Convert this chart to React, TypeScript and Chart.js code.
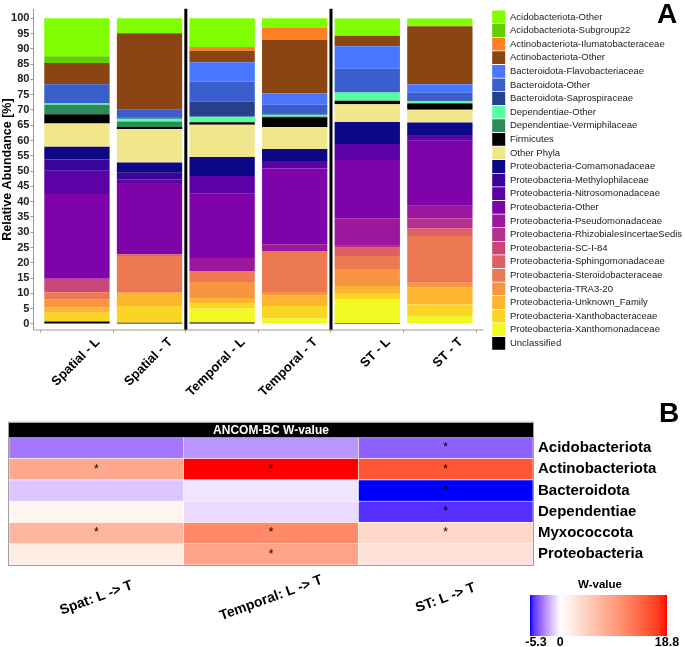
import React, { useEffect, useRef } from "react";
import { Chart, registerables } from "chart.js";
Chart.register(...registerables);

const FONT = "'Liberation Sans', Arial, Helvetica, sans-serif";

// ---------- Panel A data ----------
const samples = ["Spatial - L", "Spatial - T", "Temporal - L", "Temporal - T", "ST - L", "ST - T"];
const yTickValues = [0, 5, 10, 15, 20, 25, 30, 35, 40, 45, 50, 55, 60, 65, 70, 75, 80, 85, 90, 95, 100];

const acidobacteriotaOther = [12.4, 4.9, 9.4, 3.2, 5.7, 2.5];
const acidobacteriotaSubgroup22 = [2.2, 0, 0, 0, 0, 0];
const actinobacteriotaIlumatobacteraceae = [0, 0, 1.2, 3.8, 0, 0];
const actinobacteriotaOther = [7.0, 25.05, 3.8, 17.6, 3.4, 19.0];
const bacteroidotaFlavobacteriaceae = [0, 0, 6.3, 3.6, 7.4, 2.8];
const bacteroidotaOther = [6.3, 2.6, 6.5, 2.9, 7.7, 2.4];
const bacteroidotaSaprospiraceae = [0, 0.3, 5.0, 0.5, 0, 0.3];
const dependentiaeOther = [0.4, 0.9, 1.8, 0.5, 2.7, 0.6];
const dependentiaeVermiphilaceae = [3.1, 1.8, 0, 0.3, 0, 0.2];
const firmicutes = [3.0, 0.7, 0.8, 3.15, 1.2, 2.0];
const otherPhyla = [7.6, 10.9, 10.6, 7.2, 5.8, 4.2];
const proteoComamonadaceae = [4.2, 3.4, 6.2, 3.95, 7.2, 4.1];
const proteoMethylophilaceae = [3.7, 2.1, 0, 0, 0, 0];
const proteoNitrosomonadaceae = [7.6, 1.2, 5.8, 2.4, 5.2, 1.9];
const proteoOther = [27.7, 23.3, 21.05, 24.8, 19.1, 21.2];
const proteoPseudomonadaceae = [0, 0, 4.25, 2.2, 8.7, 4.2];
const proteoRhizobialesIncertaeSedis = [0, 0, 0, 0, 0.9, 3.3];
const proteoSCI84 = [4.4, 0, 0, 0, 0, 0];
const proteoSphingomonadaceae = [0, 0.6, 0, 0, 2.7, 2.4];
const proteoSteroidobacteraceae = [2.3, 12.0, 3.6, 13.4, 4.25, 15.3];
const proteoTRA320 = [2.7, 0, 5.2, 1.2, 5.6, 1.6];
const proteoUnknownFamily = [1.7, 4.35, 1.8, 3.4, 2.3, 5.5];
const proteoXanthobacteraceae = [2.9, 5.5, 1.6, 4.05, 1.9, 4.0];
const proteoXanthomonadaceae = [0, 0, 4.6, 1.65, 7.9, 2.4];
const unclassified = [0.8, 0.4, 0.5, 0.2, 0.3, 0];

// legend order (top of stack first)
const taxonLabels = [
  "Acidobacteriota-Other", "Acidobacteriota-Subgroup22", "Actinobacteriota-Ilumatobacteraceae",
  "Actinobacteriota-Other", "Bacteroidota-Flavobacteriaceae", "Bacteroidota-Other",
  "Bacteroidota-Saprospiraceae", "Dependentiae-Other", "Dependentiae-Vermiphilaceae",
  "Firmicutes", "Other Phyla", "Proteobacteria-Comamonadaceae", "Proteobacteria-Methylophilaceae",
  "Proteobacteria-Nitrosomonadaceae", "Proteobacteria-Other", "Proteobacteria-Pseudomonadaceae",
  "Proteobacteria-RhizobialesIncertaeSedis", "Proteobacteria-SC-I-84", "Proteobacteria-Sphingomonadaceae",
  "Proteobacteria-Steroidobacteraceae", "Proteobacteria-TRA3-20", "Proteobacteria-Unknown_Family",
  "Proteobacteria-Xanthobacteraceae", "Proteobacteria-Xanthomonadaceae", "Unclassified",
];
const taxonValues = [
  acidobacteriotaOther, acidobacteriotaSubgroup22, actinobacteriotaIlumatobacteraceae,
  actinobacteriotaOther, bacteroidotaFlavobacteriaceae, bacteroidotaOther,
  bacteroidotaSaprospiraceae, dependentiaeOther, dependentiaeVermiphilaceae,
  firmicutes, otherPhyla, proteoComamonadaceae, proteoMethylophilaceae,
  proteoNitrosomonadaceae, proteoOther, proteoPseudomonadaceae,
  proteoRhizobialesIncertaeSedis, proteoSCI84, proteoSphingomonadaceae,
  proteoSteroidobacteraceae, proteoTRA320, proteoUnknownFamily,
  proteoXanthobacteraceae, proteoXanthomonadaceae, unclassified,
];
const taxonColors = [
  "#7FFF00", "#66CD00", "#FF7F24", "#8B4513", "#4876FF", "#3A5FCD", "#27408B",
  "#54FF9F", "#2E8B57", "#000000", "#F0E68C",
  "#0D0887", "#3A049A", "#5C01A6", "#7E03A8", "#9C179E", "#B52F8C", "#CC4778",
  "#DE5F65", "#ED7953", "#F89540", "#FDB42F", "#FBD524", "#F0F921", "#000000",
];

// ---------- Panel B data ----------
const phyla = ["Acidobacteriota", "Actinobacteriota", "Bacteroidota", "Dependentiae", "Myxococcota", "Proteobacteria"];
const comparisons = ["Spat: L -> T", "Temporal: L -> T", "ST: L -> T"];
const wSpatial = [-3.1, 8.5, -1.3, 0.9, 7.1, 1.9];
const wTemporal = [-2.4, 18.8, -0.6, -0.8, 11.3, 8.8];
const wST = [-3.6, 15.4, -5.3, -4.7, 3.8, 2.8];
const sigSpatial = [false, true, false, false, true, false];
const sigTemporal = [false, true, false, false, true, true];
const sigST = [true, true, true, true, true, false];
const wMin = -5.3;
const wMax = 18.8;
const colorbarLabels = [-5.3, 0, 18.8];

// ---------- colour helpers (LAB interpolation blue-white-red) ----------
const D65 = [0.95047, 1, 1.08883];
const lin = (c: number) => { c /= 255; return c <= 0.04045 ? c / 12.92 : Math.pow((c + 0.055) / 1.055, 2.4); };
const delin = (v: number) => {
  v = v <= 0.0031308 ? 12.92 * v : 1.055 * Math.pow(Math.max(v, 0), 1 / 2.4) - 0.055;
  return Math.round(Math.max(0, Math.min(1, v)) * 255);
};
const hexToRgb = (h: string) => [parseInt(h.slice(1, 3), 16), parseInt(h.slice(3, 5), 16), parseInt(h.slice(5, 7), 16)];
function rgbToLab(rgb: number[]) {
  const R = lin(rgb[0]), G = lin(rgb[1]), B = lin(rgb[2]);
  const X = (0.4124564 * R + 0.3575761 * G + 0.1804375 * B) / D65[0];
  const Y = 0.2126729 * R + 0.7151522 * G + 0.072175 * B;
  const Z = (0.0193339 * R + 0.119192 * G + 0.9503041 * B) / D65[2];
  const f = (t: number) => (t > 216 / 24389 ? Math.cbrt(t) : ((24389 / 27) * t + 16) / 116);
  const fx = f(X), fy = f(Y), fz = f(Z);
  return [116 * fy - 16, 500 * (fx - fy), 200 * (fy - fz)];
}
function labToHex(lab: number[]) {
  const [L, a, b] = lab;
  const fy = (L + 16) / 116, fx = fy + a / 500, fz = fy - b / 200;
  const k = 24389 / 27;
  const finv = (t: number) => (t * t * t > 216 / 24389 ? t * t * t : (116 * t - 16) / k);
  const X = finv(fx) * D65[0];
  const Y = L > 8 ? fy * fy * fy : L / k;
  const Z = finv(fz) * D65[2];
  const R = 3.2404542 * X - 1.5371385 * Y - 0.4985314 * Z;
  const G = -0.969266 * X + 1.8760108 * Y + 0.041556 * Z;
  const B = 0.0556434 * X - 0.2040259 * Y + 1.0572252 * Z;
  return "rgb(" + [R, G, B].map(delin).join(",") + ")";
}
const LAB_WHITE = rgbToLab(hexToRgb("#FFFFFF"));
const LAB_RED = rgbToLab(hexToRgb("#FF0000"));
const LAB_BLUE = rgbToLab(hexToRgb("#0000FF"));
function colorFor(v: number) {
  const end = v >= 0 ? LAB_RED : LAB_BLUE;
  const t = Math.min(1, v >= 0 ? v / wMax : v / wMin);
  return labToHex(LAB_WHITE.map((w, i) => w + (end[i] - w) * t));
}

const TOP_H = 395;
const HEAT_H = 252;

export default function App() {
  const topRef = useRef<HTMLCanvasElement>(null);
  const heatRef = useRef<HTMLCanvasElement>(null);

  useEffect(() => {
    document.body.style.margin = "0";
    const stackOrder = taxonLabels.map((label, i) => ({ label, values: taxonValues[i], color: taxonColors[i] })).reverse();

    const separatorPlugin = {
      id: "separators",
      afterDatasetsDraw(chart: any) {
        const { ctx, chartArea, scales } = chart;
        const xs = scales.x;
        ctx.save();
        ctx.strokeStyle = "#000";
        ctx.lineWidth = 3;
        [2.5, 4.5].forEach((v) => {
          const px = xs.getPixelForValue(v);
          ctx.beginPath();
          ctx.moveTo(px, chartArea.top - 1);
          ctx.lineTo(px, chartArea.bottom + 0.5);
          ctx.stroke();
        });
        ctx.strokeStyle = "#9a9a9a";
        ctx.lineWidth = 1;
        ctx.beginPath();
        ctx.moveTo(chartArea.left, chartArea.bottom + 0.5);
        ctx.lineTo(xs.getPixelForValue(6.6), chartArea.bottom + 0.5);
        ctx.stroke();
        ctx.restore();
      },
    };

    const top = new Chart(topRef.current!, {
      type: "bar",
      data: {
        datasets: stackOrder.map((t) => ({
          label: t.label,
          data: t.values.map((v, i) => ({ x: i + 1, y: v })),
          backgroundColor: t.color,
          borderWidth: 0,
          barPercentage: 0.9,
          categoryPercentage: 1,
        })),
      },
      options: {
        responsive: false,
        animation: false,
        devicePixelRatio: 1,
        layout: { padding: { top: 9.7, left: 0, right: 0, bottom: 0 } },
        plugins: {
          tooltip: { enabled: false },
          legend: {
            position: "right",
            align: "start",
            reverse: true,
            maxWidth: 193.6,
            labels: {
              boxWidth: 13,
              boxHeight: 12.8,
              padding: 0.8,
              color: "#1a1a1a",
              font: { family: FONT, size: 9.5 },
            },
          },
        },
        scales: {
          x: {
            type: "linear",
            min: 0.4,
            max: 6.71,
            stacked: true,
            offset: false,
            afterBuildTicks: (s: any) => { s.ticks = samples.map((_, i) => ({ value: i + 1 })); },
            afterFit: (s: any) => { s.height = TOP_H - 329.5; },
            ticks: {
              callback: (v: any) => samples[Math.round(v) - 1] ?? "",
              minRotation: 45,
              maxRotation: 45,
              autoSkip: false,
              labelOffset: 21,
              padding: 2,
              color: "#000",
              font: { family: FONT, size: 13, weight: "bold" },
            },
            grid: { drawOnChartArea: false, drawTicks: true, tickLength: 3, color: "#9a9a9a" },
            border: { display: false },
          },
          y: {
            min: -1.8,
            max: 102.8,
            stacked: true,
            afterBuildTicks: (s: any) => { s.ticks = yTickValues.map((v) => ({ value: v })); },
            afterFit: (s: any) => { s.width = 33.4; },
            ticks: { color: "#222", padding: 1, autoSkip: false, font: { family: FONT, size: 11, weight: "bold" } },
            grid: { drawOnChartArea: false, tickLength: 3, color: "#9a9a9a" },
            border: { display: true, color: "#9a9a9a" },
            title: {
              display: true,
              text: "Relative Abundance [%]",
              color: "#000",
              padding: 0,
              font: { family: FONT, size: 12.5, weight: "bold" },
            },
          },
        },
      },
      plugins: [separatorPlugin],
    } as any);

    const wCols = [wSpatial, wTemporal, wST];
    const sigCols = [sigSpatial, sigTemporal, sigST];
    const HEADER_H = 14.6;

    const heatPlugin = {
      id: "heatDecor",
      afterDatasetsDraw(chart: any) {
        const { ctx, chartArea: ca, scales } = chart;
        ctx.save();
        ctx.fillStyle = "#000";
        ctx.fillRect(ca.left, ca.top - HEADER_H, ca.right - ca.left, HEADER_H);
        ctx.fillStyle = "#fff";
        ctx.font = `bold 12px ${FONT}`;
        ctx.textAlign = "center";
        ctx.textBaseline = "middle";
        ctx.fillText("ANCOM-BC W-value", (ca.left + ca.right) / 2, ca.top - HEADER_H / 2 + 0.5);
        ctx.strokeStyle = "#a0a0a0";
        ctx.lineWidth = 1;
        ctx.strokeRect(ca.left - 0.5, ca.top - HEADER_H - 0.5, ca.right - ca.left + 1, ca.bottom - ca.top + HEADER_H + 1);
        ctx.fillStyle = "#000";
        ctx.font = `12px ${FONT}`;
        sigCols.forEach((sig, ci) => {
          const meta = chart.getDatasetMeta(ci);
          meta.data.forEach((el: any, ri: number) => {
            if (!sig[ri]) return;
            const p = el.getProps(["x", "y", "base"], true);
            ctx.fillText("*", (p.x + p.base) / 2, p.y);
          });
        });
        ctx.font = `bold 14px ${FONT}`;
        comparisons.forEach((c, ci) => {
          const px = scales.x.getPixelForValue(ci + 0.5);
          ctx.save();
          ctx.translate(px, ca.bottom + 33);
          ctx.rotate((-20 * Math.PI) / 180);
          ctx.fillText(c, 0, 0);
          ctx.restore();
        });
        ctx.restore();
      },
    };

    const heat = new Chart(heatRef.current!, {
      type: "bar",
      data: {
        labels: phyla,
        datasets: comparisons.map((c, ci) => ({
          label: c,
          data: phyla.map(() => 1),
          backgroundColor: wCols[ci].map(colorFor),
          borderColor: "#ffffff",
          borderWidth: 0.6,
          borderSkipped: false,
          barPercentage: 1,
          categoryPercentage: 1,
        })),
      },
      options: {
        indexAxis: "y",
        responsive: false,
        animation: false,
        devicePixelRatio: 1,
        layout: { padding: { left: 9, top: 42.3, bottom: 82, right: 0 } },
        plugins: { legend: { display: false }, tooltip: { enabled: false } },
        scales: {
          x: { type: "linear", min: 0, max: 3, stacked: true, display: false },
          y: {
            position: "right",
            stacked: true,
            grid: { display: false, drawTicks: false },
            border: { display: false },
            afterFit: (s: any) => { s.width = 152; },
            ticks: { color: "#000", padding: 5, font: { family: FONT, size: 15, weight: "bold" } },
          },
        },
      },
      plugins: [heatPlugin],
    } as any);

    return () => { top.destroy(); heat.destroy(); };
  }, []);

  const cbLeft = 530, cbWidth = 137;
  const stops: string[] = [];
  for (let v = wMin; v <= wMax + 1e-9; v += 0.5) {
    stops.push(`${colorFor(v)} ${(((v - wMin) / (wMax - wMin)) * 100).toFixed(2)}%`);
  }
  stops.push(`${colorFor(wMax)} 100%`);

  return (
    <div style={{ position: "relative", width: 685, height: 647, background: "#fff", fontFamily: FONT, overflow: "hidden" }}>
      <canvas ref={topRef} width={685} height={TOP_H} style={{ position: "absolute", left: 0, top: 0 }} />
      <canvas ref={heatRef} width={685} height={HEAT_H} style={{ position: "absolute", left: 0, top: TOP_H }} />
      <div style={{ position: "absolute", left: 657, top: 0, fontSize: 28, fontWeight: "bold", lineHeight: 1, color: "#000" }}>A</div>
      <div style={{ position: "absolute", left: 659, top: 398.5, fontSize: 28, fontWeight: "bold", lineHeight: 1, color: "#000" }}>B</div>
      <div style={{ position: "absolute", left: 540, top: 577, width: 120, textAlign: "center", fontSize: 11.5, fontWeight: "bold", lineHeight: "14px" }}>W-value</div>
      <div style={{ position: "absolute", left: cbLeft, top: 595, width: cbWidth, height: 41, background: `linear-gradient(to right, ${stops.join(", ")})` }} />
      {colorbarLabels.map((v, i) => {
        const cx = cbLeft + ((v - wMin) / (wMax - wMin)) * cbWidth + (i === 0 ? 6 : 0);
        return (
          <div key={i} style={{ position: "absolute", left: cx - 20, top: 635, width: 40, textAlign: "center", fontSize: 12.5, fontWeight: "bold", lineHeight: "14px" }}>
            {String(v)}
          </div>
        );
      })}
    </div>
  );
}
